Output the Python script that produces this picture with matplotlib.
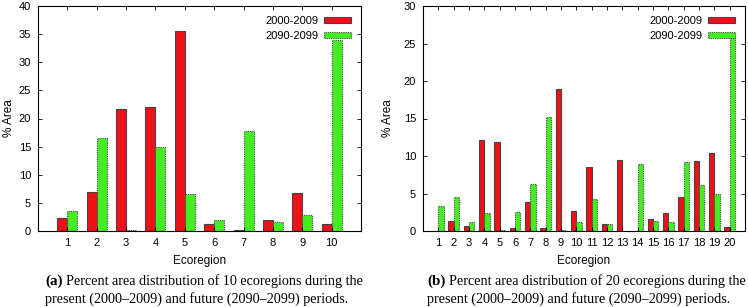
import matplotlib
matplotlib.use("Agg")
import matplotlib.pyplot as plt
import numpy as np
from matplotlib.patches import Patch

# Data
cats_a = list(range(1, 11))
a_2000 = [2.4, 6.9, 21.6, 22.1, 35.6, 1.2, 0.1, 1.9, 6.7, 1.3]
a_2090 = [3.5, 16.6, 0.1, 14.9, 6.5, 1.9, 17.7, 1.6, 2.8, 33.9]

cats_b = list(range(1, 21))
b_2000 = [0.0, 1.3, 0.7, 12.1, 11.9, 0.4, 3.9, 0.4, 19.0, 2.7,
          8.6, 1.0, 9.5, 0.0, 1.6, 2.4, 4.6, 9.4, 10.4, 0.5]
b_2090 = [3.4, 4.5, 1.2, 2.4, 0.2, 2.5, 6.3, 15.2, 0.2, 1.2,
          4.3, 1.0, 0.0, 8.9, 1.4, 1.2, 9.2, 6.1, 4.9, 26.0]

series_labels = ["2000-2009", "2090-2099"]
red = "#f01018"
green = "#44ee22"
edge = "#444444"

plt.rcParams["font.family"] = ["Liberation Sans", "DejaVu Sans"]

fig = plt.figure(figsize=(7.48, 3.07), dpi=100)
fs = 8


def panel(rect, cats, v1, v2, ymax, ystep, ylab_x):
    ax = fig.add_axes(rect)
    x = np.array(cats, dtype=float)
    w = 0.34
    ax.bar(x - w / 2, v1, width=w, color=red, edgecolor=edge, linewidth=0.8)
    ax.bar(x + w / 2, v2, width=w, color=green, edgecolor=edge, linewidth=0.8,
           linestyle=(0, (1, 1)))
    ax.set_xlim(0, len(cats) + 1)
    ax.set_ylim(0, ymax)
    ax.set_xticks(x)
    ax.set_xticklabels([str(c) for c in cats], fontsize=fs)
    ax.set_yticks(np.arange(0, ymax + 0.1, ystep))
    ax.tick_params(axis="both", direction="in", top=True, right=True,
                   labelsize=fs, length=3, width=0.6, pad=5)
    for s in ax.spines.values():
        s.set_linewidth(0.8)
    ax.set_xlabel("Ecoregion", fontsize=fs + 0.5, labelpad=5)
    ax.set_ylabel("% Area", fontsize=fs + 0.5)
    ax.yaxis.set_label_coords(ylab_x, 0.5)
    handles = [Patch(facecolor=red, edgecolor=edge, linewidth=0.8),
               Patch(facecolor=green, edgecolor=edge, linewidth=0.8,
                     linestyle=(0, (1, 1)))]
    ax.legend(handles, series_labels, loc="upper right", frameon=False,
              markerfirst=False, fontsize=fs, handlelength=2.4,
              handleheight=0.5, handletextpad=0.5, labelspacing=0.45,
              borderaxespad=0.5)
    return ax


panel([38 / 748, 76 / 307, 323 / 748, 225 / 307], cats_a, a_2000, a_2090, 40, 5,
      -0.072)
panel([423 / 748, 76 / 307, 322 / 748, 225 / 307], cats_b, b_2000, b_2090, 30, 5,
      -0.09)

serif = "Liberation Serif"
cfs = 10.2
y1 = 1 - 281 / 307
y2 = 1 - 299 / 307


def caption(x0, tag, line1, line2):
    t = fig.text(x0, y1, tag, fontsize=cfs + 0.6, family=serif,
                 fontweight="bold", va="center")
    fig.canvas.draw()
    bb = t.get_window_extent()
    fig.text(bb.x1 / fig.bbox.width + 4 / 748, y1, line1, fontsize=cfs,
             family=serif, va="center")
    fig.text(x0, y2, line2, fontsize=cfs, family=serif, va="center")


caption(45 / 748, "(a)", "Percent area distribution of 10 ecoregions during the",
        "present (2000\u20132009) and future (2090\u20132099) periods.")
caption(427 / 748, "(b)", "Percent area distribution of 20 ecoregions during the",
        "present (2000\u20132009) and future (2090\u20132099) periods.")

fig.savefig("out.png", dpi=100)
